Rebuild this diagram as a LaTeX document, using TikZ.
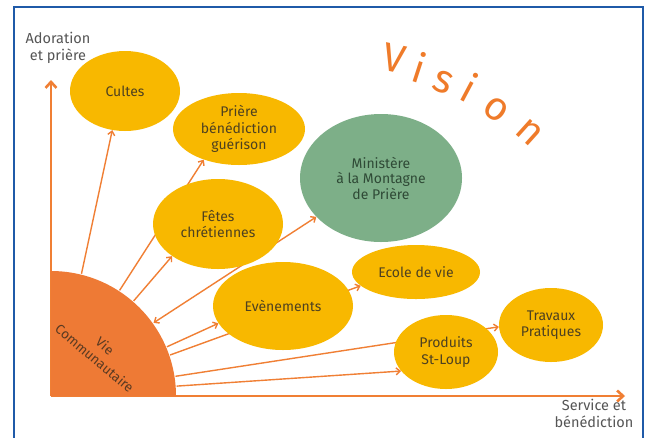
\documentclass[tikz,border=0pt]{standalone}
\usepackage{fontspec}
\setmainfont{Fira Sans}
\usetikzlibrary{arrows.meta,shapes.geometric,calc}
\pgfdeclarelayer{back}
\pgfdeclarelayer{bg}
\pgfsetlayers{back,bg,main}
\definecolor{frameblue}{HTML}{1F5AA8}
\definecolor{lineor}{HTML}{F07F34}
\definecolor{discor}{HTML}{EE7A35}
\definecolor{yel}{HTML}{F8B800}
\definecolor{grn}{HTML}{7DAF88}
\definecolor{txtyel}{HTML}{4E4120}
\definecolor{txtgrn}{HTML}{2F4A36}
\definecolor{txtdisc}{HTML}{5A3A22}
\definecolor{axtxt}{HTML}{555555}
\definecolor{visor}{HTML}{EF7B2A}
\begin{document}
\begin{tikzpicture}[x=1pt,y=-1pt,
  bubble/.style={ellipse, fill=yel, text=txtyel, inner sep=0pt, align=center,
    font=\fontsize{14}{16.5}\selectfont},
  greenbubble/.style={ellipse, fill=grn, text=txtgrn, inner sep=0pt, align=center,
    font=\fontsize{14}{15.5}\selectfont},
  link/.style={draw=lineor, line width=1.4pt, -{Straight Barb[length=4pt,width=7pt]}},
  axisline/.style={draw=lineor, line width=2.6pt, -{Straight Barb[length=6pt,width=11pt]}},
  axlabel/.style={text=axtxt, align=center, inner sep=0pt, font=\fontsize{14.5}{17}\selectfont},
  visletter/.style={text=visor, anchor=base, inner sep=0pt, font=\fontsize{40}{40}\selectfont}]
\useasboundingbox (0,0) rectangle (652,437);
\clip (0,0) rectangle (652,437);
\begin{pgfonlayer}{back}
\fill[white] (0,0) rectangle (652,437);
\end{pgfonlayer}
% frame
\draw[frameblue, line width=2.4pt] (14,450) -- (14,7) -- (643,7) -- (643,450);

% axes and disc
\coordinate (O) at (51,396);
\coordinate (ytop) at (51,80);
\coordinate (xend) at (625,396);
\draw[axisline] (O) -- (ytop);
\draw[axisline] (O) -- (xend);
\fill[discor] (O) -- ($(O)+(90:125pt)$) arc[start angle=90, end angle=0, radius=125pt] -- cycle;

% rim points
\foreach \n/\a in {1/76,2/57,3/49,4/35.5,5/23,6/19,7/9,8/4.5}
  \coordinate (s\n) at ($(O)+(\a:126pt)$);

% nodes
\node[bubble, minimum width=110pt, minimum height=80pt] (cultes) at (125,91) {Cultes};
\node[bubble, minimum width=132pt, minimum height=72pt] (priere) at (239,129) {Prière\\bénédiction\\guérison};
\node[greenbubble, minimum width=162pt, minimum height=128pt] (minist) at (381,178) {Ministère\\à la Montagne\\de Prière};
\node[bubble, minimum width=130pt, minimum height=90pt] (fetes) at (218,224) {Fêtes\\chrétiennes};
\node[bubble, minimum width=140pt, minimum height=88pt] (even) at (283,306) {Evènements};
\node[bubble, minimum width=128pt, minimum height=54pt] (ecole) at (416,272) {Ecole de vie};
\node[bubble, minimum width=104pt, minimum height=74pt] (produits) at (446,352) {Produits\\St-Loup};
\node[bubble, minimum width=104pt, minimum height=74pt] (travaux) at (551,325) {Travaux\\Pratiques};

\node[rotate=-40, align=center, text=txtdisc, inner sep=0pt,
  font=\fontsize{13.5}{16}\selectfont] (vie) at (100,352) {Vie\\Communautaire};

% connectors
\begin{pgfonlayer}{bg}
\draw[link] (s1) -- (cultes.252);
\draw[link] (s2) -- (priere.221);
\draw[link] (s3) -- (fetes.215);
\draw[link, {Straight Barb[length=4pt,width=7pt]}-{Straight Barb[length=4pt,width=7pt]}] (s4) -- (minist.211);
\draw[link] (s5) -- (even.195);
\draw[link] (s6) -- (ecole.194);
\draw[link] (s7) -- (travaux.182);
\draw[link] (s8) -- (produits.203);
\end{pgfonlayer}

% axis labels
\node[axlabel] (ylab) at (58,48) {Adoration\\et prière};
\node[axlabel] (xlab) at (594,413) {Service et\\bénédiction};

% Vision
\node[visletter, rotate=-12] (v1) at (391,72) {V};
\node[visletter, rotate=-18] (v2) at (415,82) {i};
\node[visletter, rotate=-22] (v3) at (439,92) {s};
\node[visletter, rotate=-28] (v4) at (462,101) {i};
\node[visletter, rotate=-35] (v5) at (490,118) {o};
\node[visletter, rotate=-42] (v6) at (522,140) {n};
\end{tikzpicture}
\end{document}
